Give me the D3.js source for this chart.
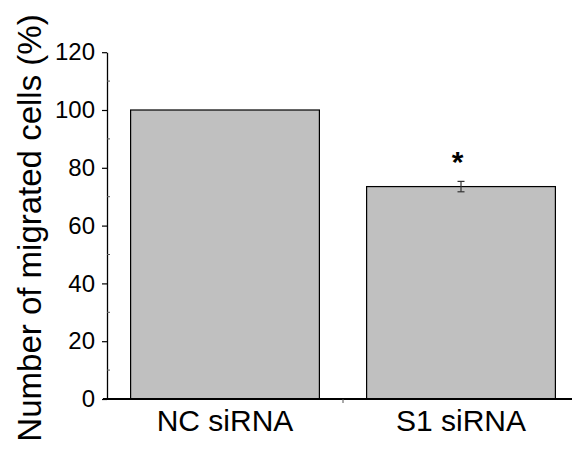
<!DOCTYPE html>
<html>
<head>
<meta charset="utf-8">
<script src="https://cdn.jsdelivr.net/npm/d3@7"></script>
<style>
  html, body { margin: 0; padding: 0; background: #fff; }
  svg { display: block; font-family: "Liberation Sans", Arial, sans-serif; }
</style>
</head>
<body>
<svg id="chart" width="572" height="450"></svg>
<script>
// Migration assay: relative number of migrated cells per siRNA condition
const categories = ["NC siRNA", "S1 siRNA"];
const values = [100, 73.5];
const errors = [0, 1.8];
const significance = ["", "*"];
const yTicks = [0, 20, 40, 60, 80, 100, 120];
const yMinorTicks = [10, 30, 50, 70, 90, 110];
const yTitle = "Number of migrated cells (%)";

const svg = d3.select("#chart");

const x = d3.scaleBand()
  .domain(categories)
  .range([107, 579])
  .paddingInner(0.2)
  .paddingOuter(0.1);

const y = d3.scaleLinear()
  .domain([0, 120])
  .range([399, 52.2]);

// bars
svg.append("g").selectAll("rect")
  .data(categories)
  .join("rect")
  .attr("x", d => x(d))
  .attr("y", (d, i) => y(values[i]))
  .attr("width", x.bandwidth())
  .attr("height", (d, i) => y(0) - y(values[i]))
  .attr("fill", "#c0c0c0")
  .attr("stroke", "#000")
  .attr("stroke-width", 1.2);

// error bars
const eb = svg.append("g").attr("stroke", "#333").attr("stroke-width", 1.2);
categories.forEach((c, i) => {
  if (!errors[i]) return;
  const cx = x(c) + x.bandwidth() / 2;
  const y1 = y(values[i] + errors[i]), y2 = y(values[i] - errors[i]);
  eb.append("line").attr("x1", cx).attr("x2", cx).attr("y1", y1).attr("y2", y2);
  eb.append("line").attr("x1", cx - 3.5).attr("x2", cx + 3.5).attr("y1", y1).attr("y2", y1);
  eb.append("line").attr("x1", cx - 3.5).attr("x2", cx + 3.5).attr("y1", y2).attr("y2", y2);
});

// significance markers
svg.append("g").selectAll("text")
  .data(categories)
  .join("text")
  .attr("x", d => x(d) + x.bandwidth() / 2 - 3.5)
  .attr("y", (d, i) => y(values[i] + errors[i]) - 9)
  .attr("text-anchor", "middle")
  .attr("font-size", 30)
  .attr("font-weight", "bold")
  .attr("fill", "#000")
  .text((d, i) => significance[i]);

// y axis (major ticks outward, minor ticks inward)
const yAxis = svg.append("g")
  .attr("transform", `translate(${x.range()[0]},0)`)
  .call(d3.axisLeft(y).tickValues(yTicks).tickSize(5).tickSizeOuter(0).tickPadding(7));
yAxis.select(".domain").attr("stroke", "#000").attr("stroke-width", 1.3);
yAxis.selectAll(".tick line").attr("stroke", "#000").attr("stroke-width", 1.2);
yAxis.selectAll(".tick text")
  .attr("font-size", 24)
  .attr("font-family", "Liberation Sans, Arial, sans-serif")
  .attr("fill", "#000");
yAxis.append("g").selectAll("line")
  .data(yMinorTicks)
  .join("line")
  .attr("x1", 0).attr("x2", 3)
  .attr("y1", d => y(d)).attr("y2", d => y(d))
  .attr("stroke", "#555").attr("stroke-width", 1);

// x axis
const xAxis = svg.append("g").attr("transform", `translate(0,${y(0)})`);
xAxis.append("line")
  .attr("x1", x.range()[0] - 4).attr("x2", 572)
  .attr("y1", 0).attr("y2", 0)
  .attr("stroke", "#000").attr("stroke-width", 2);
// tick between the two categories
xAxis.append("line")
  .attr("x1", (x(categories[0]) + x.bandwidth() + x(categories[1])) / 2)
  .attr("x2", (x(categories[0]) + x.bandwidth() + x(categories[1])) / 2)
  .attr("y1", 0).attr("y2", 4)
  .attr("stroke", "#555").attr("stroke-width", 1);
xAxis.selectAll("text")
  .data(categories)
  .join("text")
  .attr("x", d => x(d) + x.bandwidth() / 2)
  .attr("y", 32)
  .attr("text-anchor", "middle")
  .attr("font-size", 30)
  .attr("fill", "#000")
  .text(d => d);

// y axis title
svg.append("text")
  .attr("transform", "translate(41,228) rotate(-90)")
  .attr("text-anchor", "middle")
  .attr("font-size", 33)
  .attr("fill", "#000")
  .text(yTitle);
</script>
</body>
</html>
